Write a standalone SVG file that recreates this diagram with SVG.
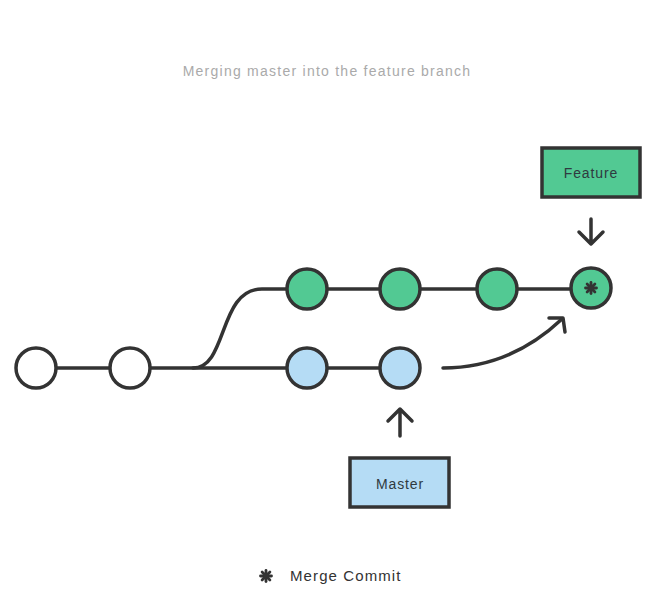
<svg xmlns="http://www.w3.org/2000/svg" width="665" height="598" viewBox="0 0 665 598">
<defs>
<style>
.edge{fill:none;stroke:#333;stroke-width:3.5;stroke-linecap:round;stroke-linejoin:round}
.c{stroke:#333;stroke-width:3.5}
.w{fill:#fff}.g{fill:#52c993}.b{fill:#b5dcf5}
.box{stroke:#333;stroke-width:3.5}
.lbl{font-family:"Liberation Sans",Arial,sans-serif;font-size:14px;fill:#2f3a40;text-anchor:middle;letter-spacing:0.9px}
.star{stroke:#333;stroke-width:2.8;stroke-linecap:round}
</style>
<g id="asterisk">
<line class="star" x1="0" y1="-5.5" x2="0" y2="5.5"/>
<line class="star" x1="-5.5" y1="0" x2="5.5" y2="0"/>
<line class="star" x1="-3.9" y1="-3.9" x2="3.9" y2="3.9"/>
<line class="star" x1="-3.9" y1="3.9" x2="3.9" y2="-3.9"/>
</g>
</defs>
<rect width="665" height="598" fill="#fff"/>
<text x="327" y="76" font-family="'Liberation Sans',Arial,sans-serif" font-size="14" fill="#aaa" text-anchor="middle" letter-spacing="1.25">Merging master into the feature branch</text>
<g id="connectors">
<path class="edge" d="M56,368 L110,368"/>
<path class="edge" d="M150,368 L287,368"/>
<path class="edge" d="M193,368 C228,368 218,289 262,289 L287,289"/>
<path class="edge" d="M327,289 L380,289"/>
<path class="edge" d="M420,289 L477,289"/>
<path class="edge" d="M517,289 L570,289"/>
<path class="edge" d="M327,368 L380,368"/>
<path class="edge" d="M443,368 Q510,368 562,319"/>
<path class="edge" d="M549,318 L563,318 L565,332"/>
<path class="edge" d="M591,219 L591,244 M579,232 L591,244 L603,232"/>
<path class="edge" d="M400,436 L400,409 M388,421 L400,409 L412,421"/>
</g>
<g id="c1"><circle class="c w" cx="36" cy="368" r="20"/></g>
<g id="c2"><circle class="c w" cx="130" cy="368" r="20"/></g>
<g id="f1"><circle class="c g" cx="307" cy="289" r="20"/></g>
<g id="f2"><circle class="c g" cx="400" cy="289" r="20"/></g>
<g id="f3"><circle class="c g" cx="497" cy="289" r="20"/></g>
<g id="merge"><circle class="c g" cx="591" cy="288" r="20"/><use href="#asterisk" x="591" y="288"/></g>
<g id="m1"><circle class="c b" cx="307" cy="368" r="20"/></g>
<g id="m2"><circle class="c b" cx="400" cy="368" r="20"/></g>
<g id="feature"><rect class="box g" x="542" y="148" width="98" height="49"/><text class="lbl" x="591" y="178">Feature</text></g>
<g id="master"><rect class="box b" x="350" y="458" width="99" height="49"/><text class="lbl" x="400" y="489">Master</text></g>
<g id="legend"><use href="#asterisk" x="266" y="576"/><text x="290" y="581" font-family="'Liberation Sans',Arial,sans-serif" font-size="15" fill="#333" letter-spacing="1.1">Merge Commit</text></g>
</svg>
